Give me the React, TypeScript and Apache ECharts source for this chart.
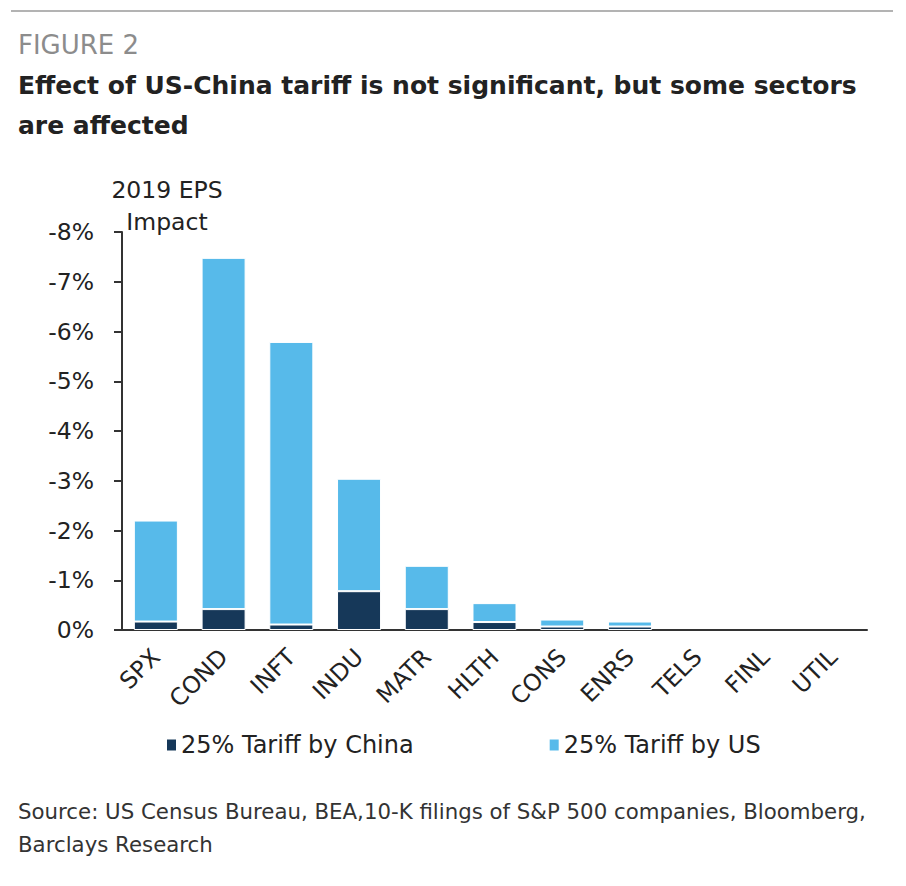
import React, { useEffect, useRef } from "react";
import * as echarts from "echarts";

const categories = ["SPX", "COND", "INFT", "INDU", "MATR", "HLTH", "CONS", "ENRS", "TELS", "FINL", "UTIL"];
const tariffByChina = [-0.17, -0.42, -0.11, -0.78, -0.42, -0.16, -0.07, -0.07, 0, 0, 0];
const tariffByUS = [-2.03, -7.06, -5.68, -2.26, -0.87, -0.38, -0.14, -0.1, 0, 0, 0];
const yTicks = [0, -1, -2, -3, -4, -5, -6, -7, -8];

const FONT = "'DejaVu Sans', 'Open Sans', sans-serif";

const nz = (arr: number[]) => arr.map((v) => (v === 0 ? null : v));

export default function App() {
  const ref = useRef<HTMLDivElement>(null);
  useEffect(() => {
    if (!ref.current) return;
    const chart = echarts.init(ref.current, null, { renderer: "svg" });
    chart.setOption({
      animation: false,
      backgroundColor: "#ffffff",
      textStyle: { fontFamily: FONT },
      graphic: [
        { type: "line", shape: { x1: 11, y1: 11, x2: 893, y2: 11 }, style: { stroke: "#b3b3b3", lineWidth: 2 } },
        { type: "text", left: 18, top: 32, style: { text: "FIGURE 2", fontSize: 26, fill: "#8c8c8c", fontFamily: FONT } },
        { type: "text", left: 18, top: 73, style: { text: "Effect of US-China tariff is not significant, but some sectors", fontSize: 25, fill: "#222222", fontFamily: FONT, fontWeight: "bold" } },
        { type: "text", left: 18, top: 113, style: { text: "are affected", fontSize: 25, fill: "#222222", fontFamily: FONT, fontWeight: "bold" } },
        { type: "text", x: 167, y: 190, style: { text: "2019 EPS", fontSize: 23.5, fill: "#222222", fontFamily: FONT, align: "center", verticalAlign: "middle" } },
        { type: "text", x: 167, y: 222, style: { text: "Impact", fontSize: 23.5, fill: "#222222", fontFamily: FONT, align: "center", verticalAlign: "middle" } },
        { type: "text", left: 18, top: 801, style: { text: "Source: US Census Bureau, BEA,10-K filings of S&P 500 companies, Bloomberg,", fontSize: 21.3, fill: "#333333", fontFamily: FONT } },
        { type: "text", left: 18, top: 834, style: { text: "Barclays Research", fontSize: 21.3, fill: "#333333", fontFamily: FONT } }
      ],
      legend: {
        left: 160,
        top: 728,
        itemWidth: 11,
        itemHeight: 13,
        itemGap: 134,
        icon: "rect",
        textStyle: { fontSize: 24, color: "#222222", fontFamily: FONT, padding: [0, 0, 0, -1] },
        data: ["25% Tariff by China", "25% Tariff by US"]
      },
      grid: { left: 122, right: 39, top: 232, bottom: 256, containLabel: false },
      xAxis: {
        type: "category",
        data: categories,
        axisLine: { lineStyle: { color: "#333333", width: 2 } },
        axisTick: { inside: true, length: 9, lineStyle: { color: "#333333", width: 2 } },
        axisLabel: { rotate: 45, fontSize: 23.5, color: "#222222", margin: 23, interval: 0, fontFamily: FONT }
      },
      yAxis: {
        type: "value",
        inverse: true,
        min: -8,
        max: 0,
        interval: 1,
        splitLine: { show: false },
        axisLine: { show: true, lineStyle: { color: "#333333", width: 2 } },
        axisTick: { show: true, length: 8, lineStyle: { color: "#333333", width: 2 } },
        axisLabel: {
          fontSize: 23.5,
          color: "#222222",
          margin: 28,
          fontFamily: FONT,
          formatter: (v: number) => (yTicks.includes(v) ? `${v}%` : "")
        }
      },
      series: [
        {
          name: "25% Tariff by China",
          type: "bar",
          stack: "total",
          data: nz(tariffByChina),
          barWidth: "65%",
          itemStyle: { color: "#163859", borderColor: "#ffffff", borderWidth: 1 }
        },
        {
          name: "25% Tariff by US",
          type: "bar",
          stack: "total",
          data: nz(tariffByUS),
          barWidth: "65%",
          itemStyle: { color: "#57baea", borderColor: "#ffffff", borderWidth: 1 }
        }
      ]
    });
    return () => chart.dispose();
  }, []);
  return <div ref={ref} style={{ width: 906, height: 886, position: "absolute", left: 0, top: 0 }} />;
}
